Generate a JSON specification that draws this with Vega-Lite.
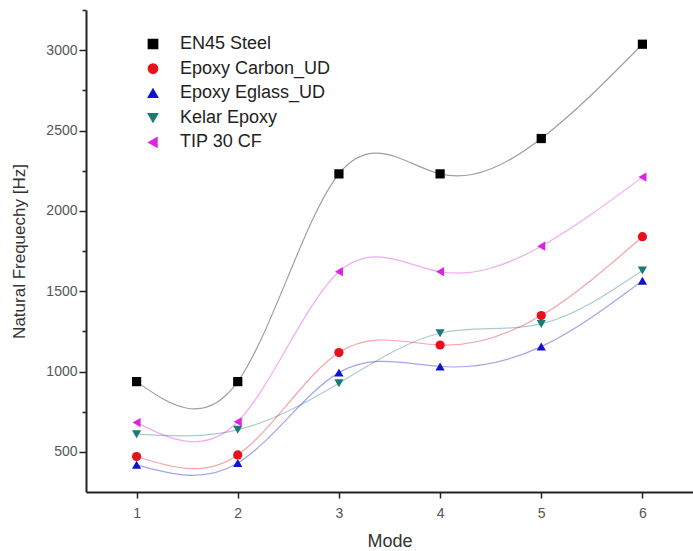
{
  "$schema": "https://vega.github.io/schema/vega-lite/v6.json",
  "width": 607,
  "height": 482,
  "autosize": {"type": "none"},
  "padding": {"left": 86, "top": 10, "right": 0, "bottom": 59},
  "background": "white",
  "config": {
    "view": {"stroke": null},
    "font": "Liberation Sans",
    "axis": {"grid": false, "domainColor": "#222", "domainWidth": 2, "tickColor": "#222", "tickWidth": 1.5, "labelColor": "#555", "labelFont": "Liberation Sans", "labelFontSize": 14, "titleFont": "Liberation Sans", "titleFontWeight": "normal", "titleColor": "#333"}
  },
  "data": {
    "values": [
      {"series": "EN45 Steel", "mode": 1, "freq": 937},
      {"series": "EN45 Steel", "mode": 2, "freq": 937},
      {"series": "EN45 Steel", "mode": 3, "freq": 2230},
      {"series": "EN45 Steel", "mode": 4, "freq": 2230},
      {"series": "EN45 Steel", "mode": 5, "freq": 2450},
      {"series": "EN45 Steel", "mode": 6, "freq": 3037},
      {"series": "Epoxy Carbon_UD", "mode": 1, "freq": 471},
      {"series": "Epoxy Carbon_UD", "mode": 2, "freq": 481},
      {"series": "Epoxy Carbon_UD", "mode": 3, "freq": 1118},
      {"series": "Epoxy Carbon_UD", "mode": 4, "freq": 1165},
      {"series": "Epoxy Carbon_UD", "mode": 5, "freq": 1348},
      {"series": "Epoxy Carbon_UD", "mode": 6, "freq": 1839},
      {"series": "Epoxy Eglass_UD", "mode": 1, "freq": 419},
      {"series": "Epoxy Eglass_UD", "mode": 2, "freq": 430},
      {"series": "Epoxy Eglass_UD", "mode": 3, "freq": 993},
      {"series": "Epoxy Eglass_UD", "mode": 4, "freq": 1031},
      {"series": "Epoxy Eglass_UD", "mode": 5, "freq": 1155},
      {"series": "Epoxy Eglass_UD", "mode": 6, "freq": 1565},
      {"series": "Kelar Epoxy", "mode": 1, "freq": 610},
      {"series": "Kelar Epoxy", "mode": 2, "freq": 637},
      {"series": "Kelar Epoxy", "mode": 3, "freq": 927},
      {"series": "Kelar Epoxy", "mode": 4, "freq": 1238},
      {"series": "Kelar Epoxy", "mode": 5, "freq": 1296},
      {"series": "Kelar Epoxy", "mode": 6, "freq": 1628},
      {"series": "TIP 30 CF", "mode": 1, "freq": 682},
      {"series": "TIP 30 CF", "mode": 2, "freq": 687},
      {"series": "TIP 30 CF", "mode": 3, "freq": 1621},
      {"series": "TIP 30 CF", "mode": 4, "freq": 1621},
      {"series": "TIP 30 CF", "mode": 5, "freq": 1780},
      {"series": "TIP 30 CF", "mode": 6, "freq": 2210}
    ]
  },
  "encoding": {
    "x": {"field": "mode", "type": "quantitative", "scale": {"domain": [0.5, 6.5], "nice": false, "zero": false},
          "axis": {"values": [1, 1.5, 2, 2.5, 3, 3.5, 4, 4.5, 5, 5.5, 6], "format": "d", "title": "Mode", "titleFontSize": 18, "titlePadding": 12,
                   "labelExpr": "datum.value % 1 === 0 ? datum.label : ''",
                   "tickSize": {"condition": {"test": "datum.value % 1 === 0", "value": 6}, "value": 4}, "labelPadding": 8}},
    "y": {"field": "freq", "type": "quantitative", "scale": {"domain": [250, 3250], "nice": false, "zero": false},
          "axis": {"values": [500, 750, 1000, 1250, 1500, 1750, 2000, 2250, 2500, 2750, 3000, 3250], "format": "d", "title": "Natural Frequechy [Hz]", "titleFontSize": 17, "titlePadding": 17,
                   "labelExpr": "datum.value % 500 === 0 ? datum.label : ''",
                   "tickSize": {"condition": {"test": "datum.value % 500 === 0", "value": 7}, "value": 4}, "labelPadding": 2}},
    "color": {"field": "series", "type": "nominal",
              "scale": {"domain": ["EN45 Steel", "Epoxy Carbon_UD", "Epoxy Eglass_UD", "Kelar Epoxy", "TIP 30 CF"],
                        "range": ["#000000", "#e8101a", "#1010d0", "#1a7a78", "#e020e0"]},
              "legend": {"title": null, "orient": "none", "legendX": 58, "legendY": 25, "labelFontSize": 18, "labelColor": "#222", "labelFont": "Liberation Sans", "rowPadding": 6.6, "symbolSize": 85, "labelOffset": 18, "symbolOpacity": 1}}
  },
  "layer": [
    {
      "mark": {"type": "line", "interpolate": "natural", "strokeWidth": 1.2, "opacity": 0.38}
    },
    {
      "mark": {"type": "point", "filled": true, "opacity": 1, "size": 85},
      "encoding": {
        "shape": {"field": "series", "type": "nominal",
                  "scale": {"domain": ["EN45 Steel", "Epoxy Carbon_UD", "Epoxy Eglass_UD", "Kelar Epoxy", "TIP 30 CF"],
                            "range": ["square", "circle", "triangle-up", "triangle-down", "triangle-left"]}}
      }
    }
  ]
}
